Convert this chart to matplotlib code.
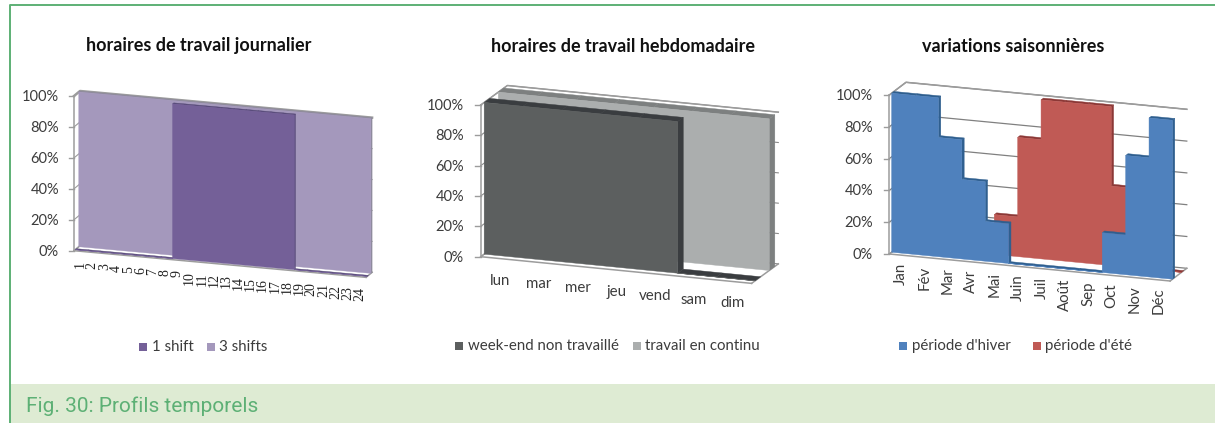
import matplotlib
matplotlib.use("Agg")
import matplotlib.pyplot as plt
from matplotlib.patches import Rectangle

# -----------------------------
# Data
# -----------------------------
pct_ticks = [0, 20, 40, 60, 80, 100]

hours = [str(h) for h in range(1, 25)]
one_shift = [0, 0, 0, 0, 0, 0, 0, 0, 100, 100, 100, 100, 100, 100, 100, 100, 100, 100, 0, 0, 0, 0, 0, 0]
three_shifts = [100] * 24

days = ["lun", "mar", "mer", "jeu", "vend", "sam", "dim"]
weekend_off = [100, 100, 100, 100, 100, 0, 0]
continuous = [100, 100, 100, 100, 100, 100, 100]

months = ["Jan", "Fév", "Mar", "Avr", "Mai", "Juin", "Juil", "Août", "Sep", "Oct", "Nov", "Déc"]
winter = [100, 100, 75, 50, 25, 0, 0, 0, 0, 25, 75, 100]
summer = [0, 0, 0, 0, 25, 75, 100, 100, 100, 50, 25, 0]

FONT = "Lato"
TEXT = "#3c3c3c"
WALL = "#9c9c9c"

fig = plt.figure(figsize=(12.15, 4.23), dpi=100)
ax = fig.add_axes([0, 0, 1, 1])
ax.set_xlim(0, 1215)
ax.set_ylim(423, 0)
ax.axis("off")


def make_proj(ox, oy, xs, ys, h, dx, dy):
    # oblique projection: category, percent, depth -> picture position
    def proj(cat, pct, t=0.0):
        return (ox + xs * cat + dx * t, oy + ys * cat - h * pct / 100 + dy * t)
    return proj


def poly(points, color, z):
    xs, ys = zip(*points)
    ax.fill(xs, ys, color=color, lw=0.3, zorder=z)


def draw_walls(proj, n, grid_color, grid_lw, top_lw=1.1):
    for p in pct_ticks:
        a, b, c = proj(0, p, 0), proj(0, p, 1), proj(n, p, 1)
        ax.plot([a[0], b[0], c[0]], [a[1], b[1], c[1]], color=grid_color, lw=grid_lw, zorder=1)
    for pts, lw in (([proj(0, 0), proj(0, 100)], 1.1),
                    ([proj(0, 0), proj(n, 0)], 1.1),
                    ([proj(0, 100), proj(0, 100, 1), proj(n, 100, 1)], top_lw),
                    ([proj(n, 0), proj(n, 0, 1)], 1.1),
                    ([proj(0, 0, 1), proj(0, 0)], 1.1)):
        xs, ys = zip(*pts)
        ax.plot(xs, ys, color=WALL, lw=lw, zorder=1)


def draw_series(proj, values, t0, t1, face, side, z):
    n = len(values)
    outline = [proj(0, 0, t0)]
    for i, v in enumerate(values):
        outline += [proj(i, v, t0), proj(i + 1, v, t0)]
    outline.append(proj(n, 0, t0))
    for i, v in enumerate(values):
        poly([proj(i, v, t0), proj(i + 1, v, t0), proj(i + 1, v, t1), proj(i, v, t1)], side, z)
        right = values[i + 1] if i + 1 < n else 0
        if v > right:
            poly([proj(i + 1, right, t0), proj(i + 1, v, t0), proj(i + 1, v, t1), proj(i + 1, right, t1)], side, z)
    poly(outline, face, z + 0.5)


def draw_yticks(proj, right_x):
    for p in pct_ticks:
        x, y = proj(0, p)
        ax.plot([x - 5.5, x], [y, y], color=WALL, lw=1, zorder=1)
        ax.text(right_x, y + 1, f"{p}%", ha="right", va="center", family=FONT, fontsize=10.5, color=TEXT)


def draw_legend(items, y):
    for sq_x, text_x, color, label in items:
        ax.add_patch(Rectangle((sq_x - 4, y - 4), 8, 8, color=color, lw=0))
        ax.text(text_x, y, label, ha="left", va="center", family=FONT, fontsize=10.8, color=TEXT)


def draw_title(x, y, label):
    ax.text(x, y, label, ha="center", va="center", family=FONT, fontsize=13,
            fontweight="bold", color="#111111")


# -----------------------------
# Chart 1 - daily hours
# -----------------------------
proj1 = make_proj(74, 250.7, 12.17, 1.11, 154.7, 6, -5)
draw_walls(proj1, len(hours), WALL, 0.8, top_lw=1.8)
draw_series(proj1, three_shifts, 0.8, 1.0, "#A498BC", "#8E8A9C", 3)
draw_series(proj1, one_shift, 0.2, 0.4, "#746098", "#574A78", 5)
draw_yticks(proj1, 59)
for i, label in enumerate(hours):
    x, y = proj1(i + 0.5, 0)
    ax.text(x, y + 10, label, rotation=90, ha="center", va="top", family="Liberation Serif",
            fontsize=10, color="#222222")
draw_title(199, 45, "horaires de travail journalier")
draw_legend([(143, 152, "#746098", "1 shift"), (211, 219, "#A498BC", "3 shifts")], 347)

# -----------------------------
# Chart 2 - weekly hours
# -----------------------------
proj2 = make_proj(480.7, 256.7, 38.7, 3.81, 151.7, 26.7, -19.5)
draw_walls(proj2, len(days), "#8a8a8a", 0.8)
draw_series(proj2, continuous, 0.66, 0.87, "#ABAEAE", "#7D8080", 3)
draw_series(proj2, weekend_off, 0.13, 0.34, "#5C5F5F", "#3A3D40", 5)
draw_yticks(proj2, 464)
for i, label in enumerate(days):
    x, y = proj2(i + 0.5, 0)
    ax.text(x, y + 22, label, ha="center", va="center", family=FONT, fontsize=10.8, color=TEXT)
draw_title(623, 46, "horaires de travail hebdomadaire")
draw_legend([(459, 468, "#5C5F5F", "week-end non travaillé"), (637, 645, "#ABAEAE", "travail en continu")], 346)

# -----------------------------
# Chart 3 - seasonal variations
# -----------------------------
proj3 = make_proj(889.3, 254, 23.4, 2.25, 159, 16.7, -12.7)
draw_walls(proj3, len(months), "#808080", 0.9)
draw_series(proj3, summer, 0.68, 0.82, "#C05A55", "#8C3836", 3)
draw_series(proj3, winter, 0.14, 0.28, "#4F81BD", "#2F5F8F", 5)
draw_yticks(proj3, 873)
for i, label in enumerate(months):
    x, y = proj3(i + 0.5, 0)
    ax.text(x, y + 8, label, rotation=90, ha="center", va="top", family=FONT, fontsize=10.8, color=TEXT)
draw_title(1013, 46, "variations saisonnières")
draw_legend([(903, 912, "#4F81BD", "période d'hiver"), (1037, 1045, "#C05A55", "période d'été")], 346)

# -----------------------------
# Frame and caption
# -----------------------------
ax.add_patch(Rectangle((10, 384), 1205, 39, color="#DEEBD3", lw=0, zorder=0))
ax.plot([10, 10, 1215], [423, 5, 5], color="#5DB075", lw=1.4, zorder=6)
ax.text(26, 406, "Fig. 30: Profils temporels", ha="left", va="center", family="Roboto",
        fontsize=15, color="#5DB075")

fig.savefig("out.png", dpi=100)
plt.close(fig)
